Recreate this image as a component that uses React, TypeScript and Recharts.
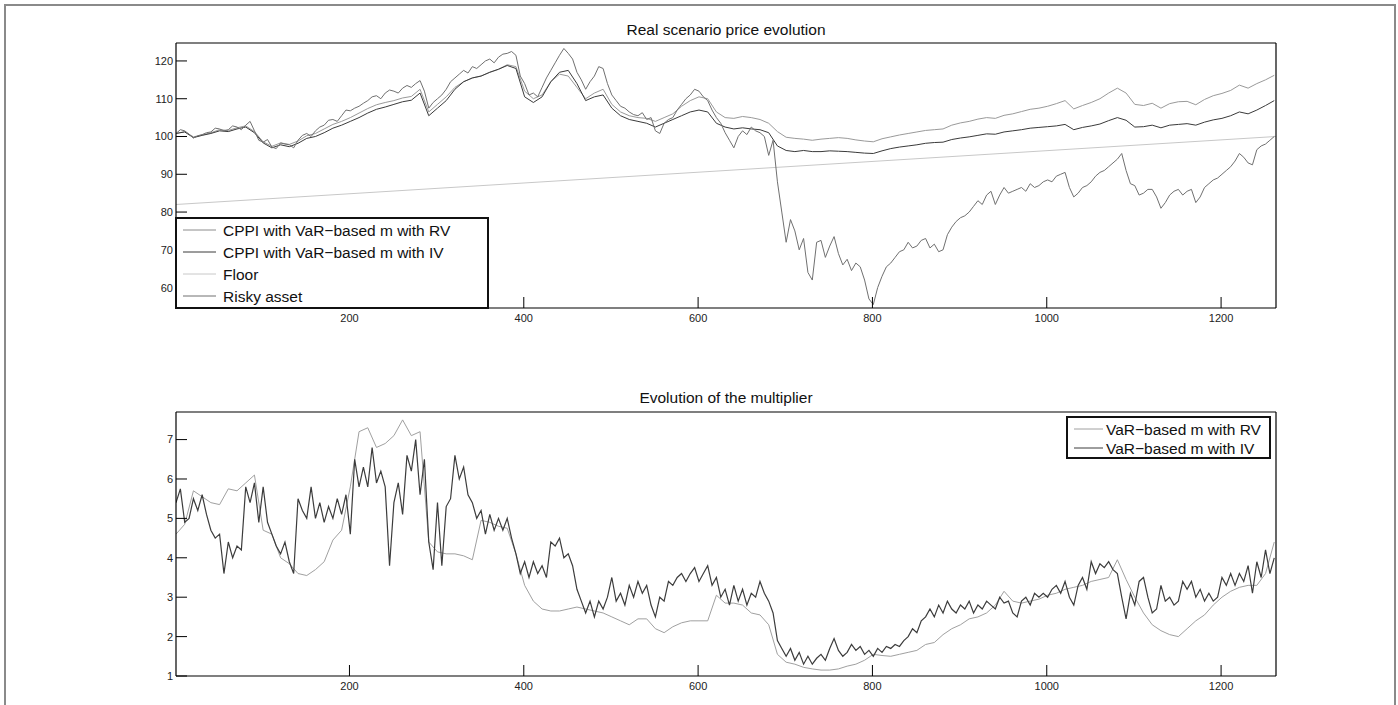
import React from "react";
import { LineChart, Line, XAxis, YAxis } from "recharts";

// readings every 10 trading days (smoother series) and every 5 (noisier series)
const coarseStep = 10;
const fineStep = 5;

// Real scenario price evolution
const riskyAsset = [
  100.8, 101.8, 101.5, 100.6, 99.6, 100.2, 100.5, 101.0, 101.2, 102.2,
  102.0, 101.5, 101.8, 102.8, 102.5, 101.8, 103.0, 104.0, 101.5, 99.0,
  98.5, 99.2, 97.2, 96.8, 98.3, 98.0, 97.8, 97.0, 99.0, 100.3,
  100.8, 100.0, 101.5, 102.5, 103.0, 104.3, 104.5, 104.0, 105.5, 107.0,
  106.8, 107.5, 108.0, 108.8, 109.5, 110.5, 110.8, 110.0, 111.5, 112.3,
  112.0, 111.5, 112.8, 113.5, 113.0, 114.0, 114.8, 112.0, 107.5, 109.0,
  110.0, 111.0, 112.5, 114.5, 115.5, 116.5, 117.5, 116.8, 118.5, 118.0,
  119.0, 120.0, 120.5, 119.5, 121.0, 121.8, 122.0, 122.5, 121.5, 116.0,
  114.0, 111.0, 111.5, 110.5, 113.0, 115.5, 117.5, 119.5, 121.5, 123.3,
  122.0, 120.5, 117.0, 115.0, 112.5, 114.5, 116.0, 118.5, 118.0, 114.0,
  111.0, 109.5, 108.0, 107.5, 106.5, 105.8, 105.5, 106.3, 104.5, 105.0,
  101.5, 100.8, 103.5, 104.5, 105.0, 107.0, 108.5, 110.0, 111.0, 112.5,
  112.0, 110.5, 109.5, 107.0, 105.0, 103.5, 101.0, 99.0, 97.0, 100.0,
  101.5, 100.5, 102.5, 101.5, 101.0, 100.0, 95.0, 99.0, 88.0, 80.0,
  72.0, 78.0, 75.0, 70.0, 73.0, 64.0, 62.0, 72.0, 72.5, 68.0,
  71.0, 73.5, 69.0, 66.0, 67.5, 64.5, 66.5, 65.5, 62.0, 57.0,
  55.5, 60.0, 63.0, 65.5, 66.5, 68.0, 69.5, 70.0, 72.0, 70.5,
  71.0, 72.5, 73.0, 70.5, 71.5, 69.5, 70.0, 74.0, 76.0, 77.5,
  78.5, 79.0, 80.0, 81.5, 83.0, 82.0, 84.5, 85.5, 82.0, 84.5,
  86.5, 85.0, 85.5, 86.0, 86.5, 85.5, 87.5, 86.5, 87.0, 88.0,
  88.5, 88.0, 89.5, 90.0, 90.5, 86.5, 84.0, 85.0, 86.5, 87.0,
  88.0, 89.5, 90.5, 91.0, 92.0, 93.0, 94.0, 95.5, 91.0, 87.5,
  87.0, 84.5, 85.0, 86.0, 86.0, 84.0, 81.0, 82.5, 84.5, 85.5,
  86.0, 84.5, 85.5, 86.0, 82.5, 84.0, 86.5, 87.5, 88.5, 89.0,
  90.0, 91.0, 92.0, 93.5, 95.5, 94.5, 93.0, 92.5, 96.5, 97.5,
  98.0, 99.0, 100.0,
];

const cppiRV = [
  100.8, 101.3, 99.9, 100.4, 101.0, 101.8, 101.6, 102.3, 102.8, 101.3,
  98.6, 97.4, 98.3, 97.9, 98.8, 100.2, 100.8, 102.0, 103.2, 104.0,
  105.0, 106.2, 107.4, 108.4, 109.0, 109.5, 110.2, 110.6, 112.5, 106.5,
  108.5, 110.5, 113.0, 114.5, 115.5, 116.0, 117.0, 117.8, 119.0, 118.5,
  112.0, 110.0, 111.0, 114.5, 116.5, 116.0, 113.0, 110.0, 111.5, 112.5,
  108.5, 106.5, 105.5, 105.0, 104.8, 104.0, 105.0, 106.0, 108.0, 109.5,
  110.5, 110.0, 106.5, 105.0, 104.8, 105.3, 105.0, 104.5, 103.5, 101.3,
  99.8, 99.5, 99.3, 99.0, 99.3, 99.5, 99.7, 99.5, 99.1, 98.8,
  98.6, 99.4, 99.9, 100.4, 100.8, 101.2, 101.6, 101.8, 102.0, 103.0,
  103.6, 104.0, 104.6, 105.0, 104.8, 105.6, 106.0, 106.6, 107.2, 107.5,
  108.0, 108.7, 109.5, 107.3, 108.2, 109.0, 110.0, 111.5, 112.8, 111.5,
  108.5, 108.2, 108.8, 107.5, 108.7, 109.2, 109.3, 108.4, 109.8, 110.8,
  111.4, 112.2, 113.6, 112.8, 114.0, 115.0, 116.2,
];

const cppiIV = [
  100.8, 101.2, 99.7, 100.3, 100.8, 101.5, 101.3, 102.0, 102.5, 101.0,
  98.3, 97.0, 97.8, 97.3, 98.2, 99.5, 100.0, 101.0, 102.2, 103.0,
  104.0, 105.0, 106.2, 107.2, 107.8, 108.5, 109.2, 109.6, 111.5, 105.5,
  107.5, 109.5, 112.5, 114.5, 115.5, 116.0, 117.0, 117.8, 118.8, 118.0,
  110.5, 109.0, 110.5, 114.5, 117.0, 117.5, 114.0, 109.5, 110.5, 111.0,
  107.5, 105.5, 104.5, 104.0, 103.5, 102.5, 103.5, 104.5, 105.5, 106.5,
  107.0, 106.5, 103.5, 102.5, 102.0, 102.3, 102.0, 101.8, 101.0, 97.5,
  96.3, 96.0, 96.3, 96.0, 96.0, 96.2, 96.1, 96.0, 95.8, 95.6,
  95.5, 96.2, 96.8, 97.2, 97.5, 97.8, 98.2, 98.4, 98.5, 99.2,
  99.6, 99.9, 100.3, 100.7, 100.6, 101.2, 101.5, 101.8, 102.2, 102.4,
  102.6, 102.8, 103.2, 101.8, 102.4, 102.8, 103.3, 104.2, 105.0, 104.3,
  102.5, 102.6, 103.0, 102.3, 103.0, 103.2, 103.4, 103.0, 103.8, 104.4,
  104.8, 105.5, 106.5, 106.0, 107.0, 108.2, 109.5,
];

// floor is a straight line, read at both ends
const floorDays = [1, 1263];
const floorLevel = [82, 100];

// Evolution of the multiplier
const multRV = [
  4.6, 4.85, 5.7, 5.55, 5.4, 5.35, 5.75, 5.7, 5.9, 6.1,
  4.7, 4.6, 4.0, 3.85, 3.6, 3.55, 3.7, 3.9, 4.45, 4.7,
  5.8, 7.2, 7.3, 6.8, 6.9, 7.1, 7.5, 7.1, 7.2, 4.4,
  4.15, 4.1, 4.1, 4.05, 3.95, 4.95, 4.9, 4.8, 4.75, 4.1,
  3.3, 2.9, 2.7, 2.65, 2.65, 2.7, 2.75, 2.7, 2.65, 2.6,
  2.5, 2.4, 2.3, 2.45, 2.45, 2.2, 2.1, 2.25, 2.35, 2.4,
  2.4, 2.4, 3.05, 2.85, 2.85, 2.8, 2.6, 2.55, 2.3, 1.55,
  1.35, 1.3, 1.22, 1.18, 1.15, 1.15, 1.18, 1.25, 1.3, 1.4,
  1.55, 1.52, 1.5, 1.55, 1.6, 1.65, 1.8, 1.85, 2.05, 2.2,
  2.3, 2.45, 2.5, 2.6, 2.8, 3.15, 2.9, 2.85, 2.9, 2.95,
  3.05, 3.1, 3.2, 3.25, 3.3, 3.4, 3.45, 3.5, 3.95, 3.45,
  3.0, 2.6, 2.3, 2.15, 2.05, 2.0, 2.2, 2.4, 2.55, 2.8,
  3.0, 3.15, 3.25, 3.3, 3.3, 3.6, 4.4,
];

const multIV = [
  5.4, 5.75, 4.9, 5.0, 5.5, 5.2, 5.6, 5.1, 4.7, 4.5,
  4.6, 3.6, 4.4, 4.0, 4.3, 4.2, 5.8, 5.4, 5.9, 4.9,
  5.8, 4.9, 4.6, 4.3, 4.1, 4.4, 3.9, 3.6, 5.5, 5.2,
  5.0, 5.8, 5.0, 5.4, 4.9, 5.3, 5.0, 5.5, 5.1, 5.6,
  4.6, 6.5, 5.8, 6.3, 5.8, 6.8, 5.9, 6.2, 5.8, 3.8,
  5.4, 5.9, 5.1, 6.6, 6.2, 7.0, 5.6, 6.5, 4.4, 3.7,
  5.4, 3.8, 5.3, 5.5, 6.6, 6.0, 6.3, 5.6, 5.4, 5.0,
  5.2, 4.6, 5.1, 4.7, 5.0, 4.7, 5.0, 4.5, 4.1, 3.6,
  3.9, 3.5, 3.9, 3.6, 3.8, 3.5, 4.4, 4.3, 4.5, 4.0,
  4.1, 3.8, 3.2, 2.9, 2.6, 2.9, 2.5, 2.9, 2.7, 3.0,
  3.5, 2.9, 3.1, 2.8, 3.3, 3.0, 3.4, 3.1, 3.3, 2.8,
  2.5, 3.0, 2.9, 3.4, 3.3, 3.5, 3.6, 3.4, 3.6, 3.75,
  3.4, 3.6, 3.8, 3.3, 3.5, 3.0, 3.2, 2.8, 3.3, 2.9,
  3.2, 2.8, 3.1, 3.0, 3.4, 3.1, 2.9, 2.6, 1.9, 1.7,
  1.5, 1.7, 1.4, 1.6, 1.3, 1.5, 1.3, 1.45, 1.55, 1.4,
  1.7, 1.95, 1.65, 1.5, 1.6, 1.8, 1.65, 1.75, 1.55, 1.65,
  1.5, 1.7, 1.6, 1.75, 1.7, 1.8, 1.75, 1.9, 2.0, 2.2,
  2.1, 2.4, 2.5, 2.7, 2.5, 2.8, 2.6, 2.9, 2.7, 2.6,
  2.8, 2.7, 2.9, 2.6, 2.8, 2.7, 2.9, 2.8, 2.7, 3.0,
  2.85, 2.9, 2.6, 2.5, 2.9, 3.0, 2.8, 3.1, 3.0, 3.1,
  3.0, 3.2, 3.3, 3.1, 3.4, 3.0, 2.8, 3.3, 3.5, 3.2,
  3.9, 3.6, 3.85, 3.75, 3.9, 3.7, 3.6, 3.0, 2.45, 3.1,
  2.8, 3.4, 3.5, 3.0, 2.6, 2.7, 3.3, 2.9, 3.0, 2.8,
  2.9, 3.4, 3.2, 3.4, 3.0, 3.2, 2.9, 3.1, 2.9, 3.0,
  3.5, 3.3, 3.6, 3.3, 3.6, 3.4, 3.8, 3.1, 3.9, 3.5,
  4.2, 3.6, 4.0,
];

const xTicks = [200, 400, 600, 800, 1000, 1200];
const priceTicks = [60, 70, 80, 90, 100, 110, 120];
const multTicks = [1, 2, 3, 4, 5, 6, 7];

const coarseDays = cppiRV.map((_, i) => 1 + i * coarseStep);
const fineDays = riskyAsset.map((_, i) => 1 + i * fineStep);

const cppiData = coarseDays.map((day, i) => ({ day, rv: cppiRV[i], iv: cppiIV[i] }));
const riskyData = fineDays.map((day, i) => ({ day, risky: riskyAsset[i] }));
const floorData = floorDays.map((day, i) => ({ day, floor: floorLevel[i] }));
const multRVData = coarseDays.map((day, i) => ({ day, rv: multRV[i] }));
const multIVData = fineDays.map((day, i) => ({ day, iv: multIV[i] }));

const FONT = "'Liberation Sans', Arial, Helvetica, sans-serif";
const tickStyle = { fontSize: 11, fill: "#222", fontFamily: FONT };
const axisLine = { stroke: "#000", strokeWidth: 1.2 };
const tickLine = { stroke: "#000", strokeWidth: 1 };

// axis boxes: left 40 wide, right 10, bottom 20, top 10
const frame = (yTicks: number[], yDomain: [number, number]) => [
  <XAxis
    key="xb"
    xAxisId="b"
    dataKey="day"
    type="number"
    domain={[1, 1263]}
    ticks={xTicks}
    allowDataOverflow
    height={20}
    tickSize={-11}
    tickMargin={17.5}
    tick={tickStyle}
    axisLine={axisLine}
    tickLine={tickLine}
  />,
  <XAxis
    key="xt"
    xAxisId="t"
    orientation="top"
    dataKey="day"
    type="number"
    domain={[1, 1263]}
    ticks={xTicks}
    allowDataOverflow
    height={10}
    tickSize={-11}
    tick={false}
    axisLine={axisLine}
    tickLine={tickLine}
  />,
  <YAxis
    key="yl"
    yAxisId="l"
    type="number"
    domain={yDomain}
    ticks={yTicks}
    allowDataOverflow
    width={40}
    tickSize={-11}
    tickMargin={14}
    tick={tickStyle}
    axisLine={axisLine}
    tickLine={tickLine}
  />,
  <YAxis
    key="yr"
    yAxisId="r"
    orientation="right"
    type="number"
    domain={yDomain}
    ticks={yTicks}
    allowDataOverflow
    width={10}
    tickSize={-11}
    tick={false}
    axisLine={axisLine}
    tickLine={tickLine}
  />,
];

const App: React.FC = () => {
  return (
    <div
      style={{
        position: "absolute",
        left: 0,
        top: 0,
        width: 1398,
        height: 705,
        background: "#fff",
        overflow: "hidden",
        fontFamily: FONT,
      }}
    >
      <div style={{ position: "absolute", left: 0, top: 0 }}>
        <LineChart
          width={1398}
          height={330}
          data={cppiData}
          margin={{ top: 33, right: 112, bottom: 2, left: 136 }}
        >
          {frame(priceTicks, [54.6, 124.75])}
          <Line
            xAxisId="b"
            yAxisId="l"
            dataKey="rv"
            type="linear"
            stroke="#9a9a9a"
            strokeWidth={1}
            dot={false}
            isAnimationActive={false}
          />
          <Line
            xAxisId="b"
            yAxisId="l"
            dataKey="iv"
            type="linear"
            stroke="#3a3a3a"
            strokeWidth={1}
            dot={false}
            isAnimationActive={false}
          />
          <Line
            xAxisId="b"
            yAxisId="l"
            data={floorData}
            dataKey="floor"
            type="linear"
            stroke="#c8c8c8"
            strokeWidth={1}
            dot={false}
            isAnimationActive={false}
          />
          <Line
            xAxisId="b"
            yAxisId="l"
            data={riskyData}
            dataKey="risky"
            type="linear"
            stroke="#707070"
            strokeWidth={1}
            dot={false}
            isAnimationActive={false}
          />
        </LineChart>
      </div>

      <div style={{ position: "absolute", left: 0, top: 380 }}>
        <LineChart
          width={1398}
          height={325}
          data={multRVData}
          margin={{ top: 22, right: 112, bottom: 9, left: 136 }}
        >
          {frame(multTicks, [1, 7.7])}
          <Line
            xAxisId="b"
            yAxisId="l"
            dataKey="rv"
            type="linear"
            stroke="#a0a0a0"
            strokeWidth={1}
            dot={false}
            isAnimationActive={false}
          />
          <Line
            xAxisId="b"
            yAxisId="l"
            data={multIVData}
            dataKey="iv"
            type="linear"
            stroke="#3c3c3c"
            strokeWidth={1.2}
            dot={false}
            isAnimationActive={false}
          />
        </LineChart>
      </div>

      <svg
        width={1398}
        height={705}
        style={{ position: "absolute", left: 0, top: 0, pointerEvents: "none" }}
        fontFamily={FONT}
      >
        <rect x={5} y={5} width={1390} height={720} fill="none" stroke="#8a8a8a" strokeWidth={2} />
        <text x={726} y={34.5} textAnchor="middle" fontSize={15.5} fill="#111">
          Real scenario price evolution
        </text>
        <text x={726} y={402.5} textAnchor="middle" fontSize={15.5} fill="#111">
          Evolution of the multiplier
        </text>

        {/* legend of the price panel */}
        <rect x={176} y={218} width={312} height={90} fill="#fff" stroke="#111" strokeWidth={2} />
        {[
          { label: "CPPI with VaR−based m with RV", color: "#8c8c8c" },
          { label: "CPPI with VaR−based m with IV", color: "#3a3a3a" },
          { label: "Floor", color: "#c8c8c8" },
          { label: "Risky asset", color: "#707070" },
        ].map((e, i) => (
          <g key={e.label}>
            <line x1={183} x2={216} y1={230 + i * 22} y2={230 + i * 22} stroke={e.color} strokeWidth={1} />
            <text x={223} y={235.5 + i * 22} fontSize={15.5} fill="#111">
              {e.label}
            </text>
          </g>
        ))}

        {/* legend of the multiplier panel */}
        <rect x={1067} y={417} width={203} height={41} fill="#fff" stroke="#111" strokeWidth={2} />
        {[
          { label: "VaR−based m with RV", color: "#a0a0a0" },
          { label: "VaR−based m with IV", color: "#3c3c3c" },
        ].map((e, i) => (
          <g key={e.label}>
            <line x1={1074} x2={1103} y1={429 + i * 19} y2={429 + i * 19} stroke={e.color} strokeWidth={1} />
            <text x={1106} y={434.5 + i * 19} fontSize={15.5} fill="#111">
              {e.label}
            </text>
          </g>
        ))}
      </svg>
    </div>
  );
};

export default App;
